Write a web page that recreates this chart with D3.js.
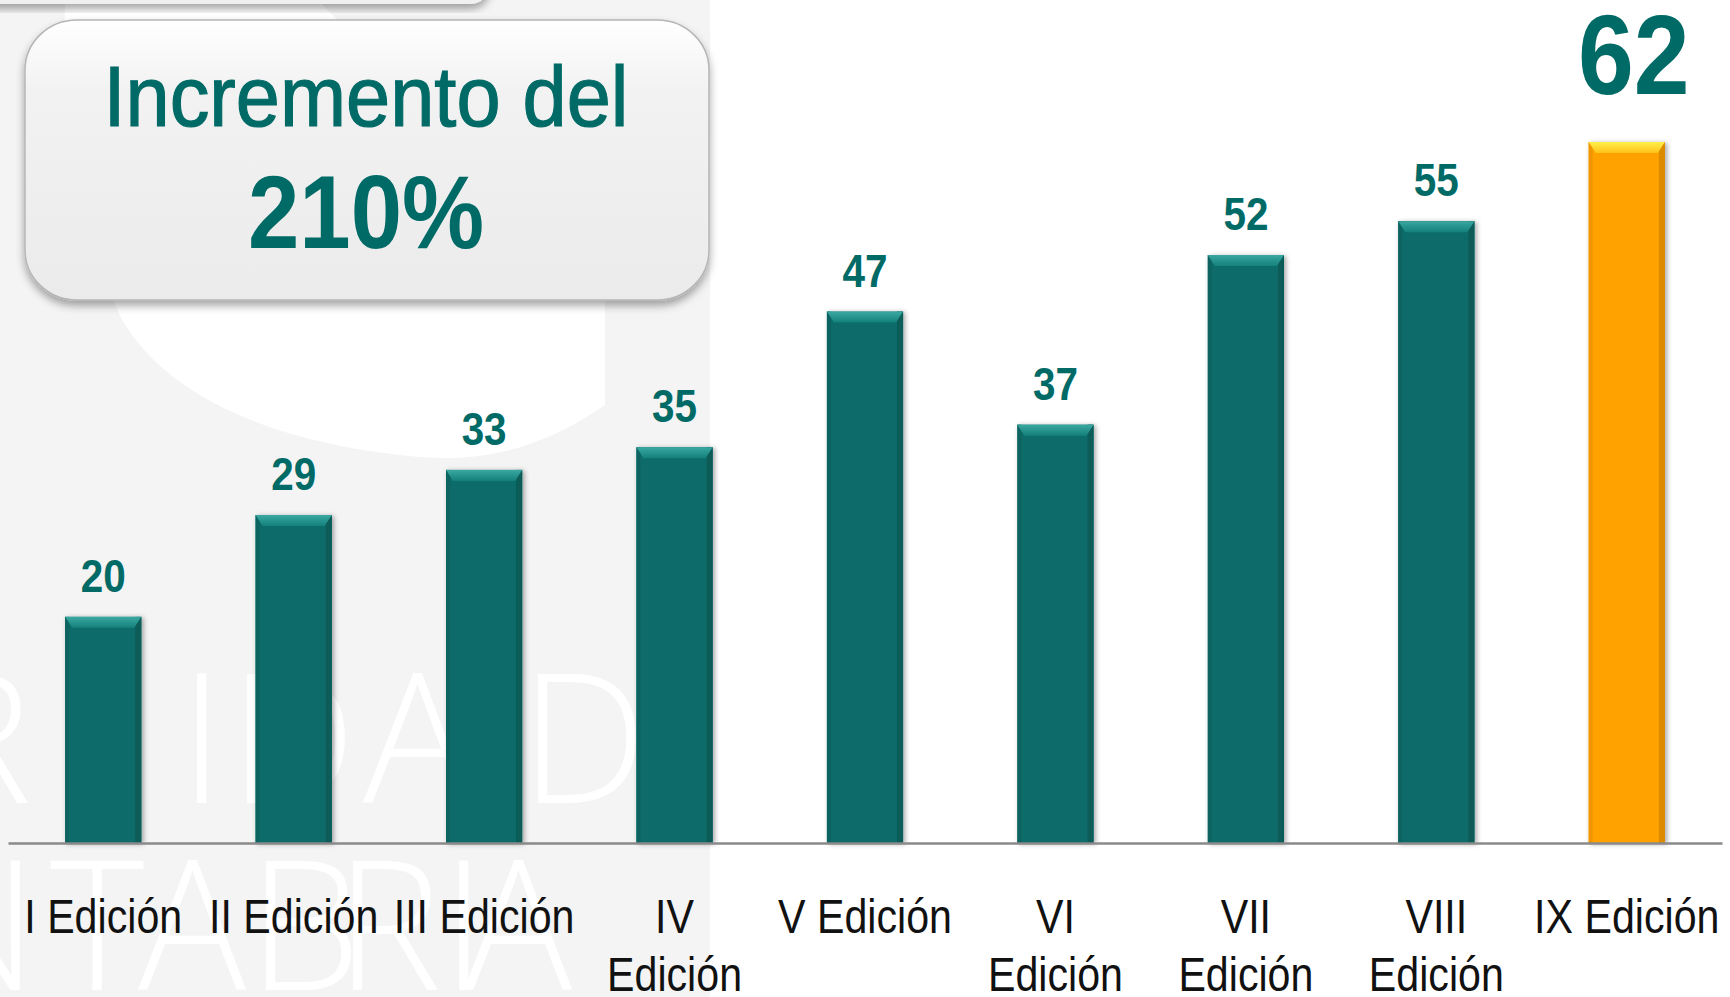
<!DOCTYPE html>
<html>
<head>
<meta charset="utf-8">
<script src="https://cdn.jsdelivr.net/npm/d3@7"></script>
<style>
  html, body { margin: 0; padding: 0; background: #fff; }
  #chart { width: 1730px; height: 997px; }
</style>
</head>
<body>
<div id="chart"></div>
<script>
// Participantes por edición (barra dorada = última edición)

const editions = ["I Edición", "II Edición", "III Edición", "IV Edición", "V Edición",
                  "VI Edición", "VII Edición", "VIII Edición", "IX Edición"];
const participants = [20, 29, 33, 35, 47, 37, 52, 55, 62];
const tickLines = [["I Edición"], ["II Edición"], ["III Edición"], ["IV", "Edición"], ["V Edición"],
                   ["VI", "Edición"], ["VII", "Edición"], ["VIII", "Edición"], ["IX Edición"]];
const highlightEdition = "IX Edición";
const headline = ["Incremento del", "210%"];

const W = 1730, H = 997;
const TEAL = "#0a6c69", TEXT_TEAL = "#006a66";
const SANS = "'Liberation Sans', Arial, sans-serif";

// no narrow font installed: squeeze glyphs horizontally
function condense(sel, k) {
  sel.each(function() {
    const w = this.getComputedTextLength();
    d3.select(this).attr("textLength", w * k).attr("lengthAdjust", "spacingAndGlyphs");
  });
}

const svg = d3.select("#chart").append("svg")
  .attr("width", W)
  .attr("height", H)
  .attr("viewBox", `0 0 ${W} ${H}`);

const defs = svg.append("defs");

defs.append("filter").attr("id", "barShadow")
  .attr("x", "-20%").attr("y", "-5%").attr("width", "140%").attr("height", "110%")
  .append("feDropShadow")
  .attr("dx", 2).attr("dy", 1).attr("stdDeviation", 2.5)
  .attr("flood-color", "#000").attr("flood-opacity", 0.35);

defs.append("filter").attr("id", "boxShadow")
  .attr("x", "-10%").attr("y", "-10%").attr("width", "120%").attr("height", "130%")
  .append("feDropShadow")
  .attr("dx", 0).attr("dy", 5).attr("stdDeviation", 4)
  .attr("flood-color", "#000").attr("flood-opacity", 0.35);

const boxGrad = defs.append("linearGradient").attr("id", "boxGrad")
  .attr("x1", 0).attr("x2", 0).attr("y1", 0).attr("y2", 1);
boxGrad.append("stop").attr("offset", "0%").attr("stop-color", "#ffffff");
boxGrad.append("stop").attr("offset", "25%").attr("stop-color", "#f2f2f2");
boxGrad.append("stop").attr("offset", "100%").attr("stop-color", "#ebebeb");

const bevelTeal = defs.append("linearGradient").attr("id", "bevelTeal")
  .attr("x1", 0).attr("x2", 0).attr("y1", 0).attr("y2", 1);
bevelTeal.append("stop").attr("offset", "0%").attr("stop-color", "#3aa8a1");
bevelTeal.append("stop").attr("offset", "100%").attr("stop-color", "#15807b");

const bevelGold = defs.append("linearGradient").attr("id", "bevelGold")
  .attr("x1", 0).attr("x2", 0).attr("y1", 0).attr("y2", 1);
bevelGold.append("stop").attr("offset", "0%").attr("stop-color", "#fff04a");
bevelGold.append("stop").attr("offset", "100%").attr("stop-color", "#ffc21a");

// background panel with watermark
svg.append("rect").attr("x", 0).attr("y", 0).attr("width", 710).attr("height", H).attr("fill", "#f4f4f4");

svg.append("path")
  .attr("d", "M65,0 L318,0 L605,300 L605,405 C540,450 480,462 420,457 C280,445 170,400 122,320 C85,240 62,120 65,0 Z")
  .attr("fill", "#ffffff");

svg.append("rect").attr("x", -20).attr("y", -40).attr("width", 510).attr("height", 44).attr("rx", 20)
  .attr("fill", "#f0f0f0").attr("filter", "url(#boxShadow)");

svg.append("text")
  .attr("x", "-75 179 229 363 520").attr("y", 803)
  .style("font-family", "'Open Sans', 'Lato', sans-serif")
  .style("font-weight", 300)
  .style("font-size", "180px")
  .attr("fill", "#ffffff")
  .text("RIDAD");

svg.append("text")
  .attr("x", "-92 50 138 248 335 441 464").attr("y", 990)
  .style("font-family", "'Open Sans', 'Lato', sans-serif")
  .style("font-weight", 300)
  .style("font-size", "180px")
  .attr("fill", "#ffffff")
  .text("NTABRIA");

// headline box
const box = svg.append("g");
box.append("rect")
  .attr("x", 25).attr("y", 20).attr("width", 684).attr("height", 280)
  .attr("rx", 52).attr("ry", 50)
  .attr("fill", "url(#boxGrad)")
  .attr("stroke", "#b5b5b5").attr("stroke-width", 1.5)
  .attr("filter", "url(#boxShadow)");

box.append("text")
  .attr("x", 366).attr("y", 126)
  .attr("text-anchor", "middle")
  .attr("textLength", 525).attr("lengthAdjust", "spacingAndGlyphs")
  .style("font-family", SANS)
  .style("font-size", "85px")
  .attr("fill", TEXT_TEAL)
  .attr("stroke", TEXT_TEAL).attr("stroke-width", 1.2)
  .text(headline[0]);

box.append("text")
  .attr("x", 366).attr("y", 248)
  .attr("text-anchor", "middle")
  .attr("textLength", 236).attr("lengthAdjust", "spacingAndGlyphs")
  .style("font-family", SANS)
  .style("font-weight", "bold")
  .style("font-size", "104px")
  .attr("fill", TEXT_TEAL)
  .text(headline[1]);

// scales
const x = d3.scaleBand()
  .domain(editions)
  .range([8, 1722])
  .paddingInner(0.6)
  .paddingOuter(0.3);

const y = d3.scaleLinear()
  .domain([0, 62])
  .range([843, 142]);

const rows = editions.map((e, i) => ({ edition: e, value: participants[i], lines: tickLines[i] }));
const isHi = d => d.edition === highlightEdition;

// bars
const bars = svg.selectAll(".bar")
  .data(rows)
  .join("g")
  .attr("class", "bar")
  .attr("filter", "url(#barShadow)");

bars.append("rect")
  .attr("x", d => x(d.edition))
  .attr("y", d => y(d.value))
  .attr("width", x.bandwidth())
  .attr("height", d => y(0) - y(d.value))
  .attr("fill", d => isHi(d) ? "#ffa200" : TEAL);

// darker right edge
bars.append("rect")
  .attr("x", d => x(d.edition) + x.bandwidth() - 6)
  .attr("y", d => y(d.value))
  .attr("width", 6)
  .attr("height", d => y(0) - y(d.value))
  .attr("fill", d => isHi(d) ? "#dc8a00" : "#075b58");

// left edge
bars.append("rect")
  .attr("x", d => x(d.edition))
  .attr("y", d => y(d.value))
  .attr("width", 4)
  .attr("height", d => y(0) - y(d.value))
  .attr("fill", d => isHi(d) ? "#f09600" : "#096461");

// top bevel
bars.append("path")
  .attr("d", d => {
    const x0 = x(d.edition), x1 = x0 + x.bandwidth(), t = y(d.value);
    return `M${x0},${t} L${x1},${t} L${x1 - 7},${t + 11} L${x0 + 7},${t + 11} Z`;
  })
  .attr("fill", d => isHi(d) ? "url(#bevelGold)" : "url(#bevelTeal)");

// value labels
const valueLabels = svg.selectAll(".value-label")
  .data(rows)
  .join("text")
  .attr("class", "value-label")
  .attr("x", d => x(d.edition) + x.bandwidth() / 2 + (isHi(d) ? 7 : 0))
  .attr("y", d => isHi(d) ? y(d.value) - 48 : y(d.value) - 25)
  .attr("text-anchor", "middle")
  .style("font-family", SANS)
  .style("font-weight", "bold")
  .style("font-size", d => isHi(d) ? "114px" : "47px")
  .attr("fill", TEXT_TEAL)
  .text(d => d.value);

condense(valueLabels.filter(d => !isHi(d)), 0.86);
condense(valueLabels.filter(isHi), 0.88);

// axis
const xAxis = d3.axisBottom(x).tickSize(0).tickSizeOuter(0);

const axisG = svg.append("g")
  .attr("transform", `translate(0,${y(0)})`)
  .call(xAxis);

axisG.select(".domain").attr("stroke", "#8a8a8a").attr("stroke-width", 2.5);

axisG.selectAll(".tick text").each(function(d, i) {
  const t = d3.select(this);
  t.text(null)
    .attr("y", null)
    .attr("dy", null)
    .attr("fill", "#111")
    .style("font-family", SANS)
    .style("font-size", "49px");
  tickLines[i].forEach((line, j) => {
    t.append("tspan").attr("x", 0).attr("y", 90 + j * 58).text(line);
  });
});

condense(axisG.selectAll(".tick tspan"), 0.84);
</script>
</body>
</html>
